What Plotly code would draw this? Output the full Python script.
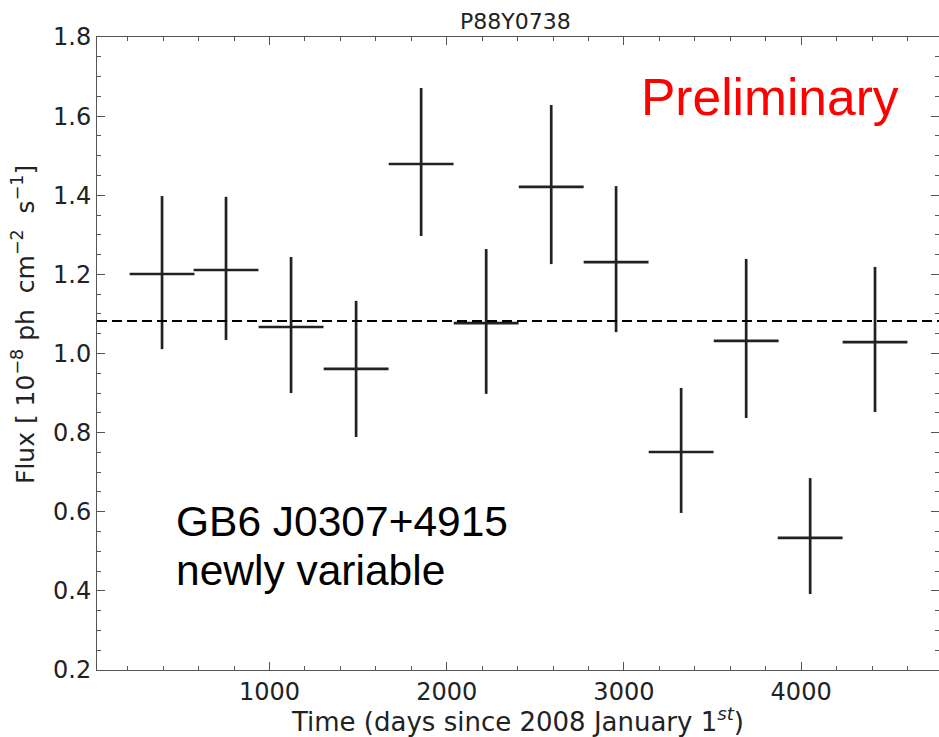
import plotly.graph_objects as go

# ---- data ----
time_days = [394, 755, 1122, 1489, 1856, 2223, 2590, 2956, 3323, 3690, 4051, 4417]
bin_half_width = [183] * 12
flux = [1.201, 1.211, 1.067, 0.961, 1.479, 1.077, 1.421, 1.231, 0.751, 1.032, 0.534, 1.029]
flux_hi = [1.398, 1.396, 1.244, 1.133, 1.671, 1.264, 1.628, 1.423, 0.913, 1.239, 0.685, 1.219]
flux_lo = [1.011, 1.034, 0.900, 0.789, 1.297, 0.898, 1.226, 1.054, 0.597, 0.837, 0.392, 0.852]
mean_flux = 1.082

x_ticks = [1000, 2000, 3000, 4000]
y_ticks = [0.2, 0.4, 0.6, 0.8, 1.0, 1.2, 1.4, 1.6, 1.8]

title_text = "P88Y0738"
x_title = "Time (days since 2008 January 1<sup><i>st</i></sup>)"
sp = "&nbsp;"
y_title = ("Flux" + sp + "[" + sp + "10<sup>\u22128</sup>" + sp + "ph" + sp + sp
           + "cm<sup>\u22122</sup>" + sp + sp + "s<sup>\u22121</sup>]")

err_plus = [h - f for h, f in zip(flux_hi, flux)]
err_minus = [f - l for f, l in zip(flux, flux_lo)]

fig = go.Figure()
fig.add_trace(go.Scatter(
    x=time_days, y=flux, mode="markers",
    marker=dict(size=1, color="#222222"),
    error_x=dict(type="data", array=bin_half_width, symmetric=True,
                 thickness=2.7, width=0, color="#222222"),
    error_y=dict(type="data", array=err_plus, arrayminus=err_minus,
                 symmetric=False, thickness=2.7, width=0, color="#222222"),
    showlegend=False, hoverinfo="skip",
))

fig.add_hline(y=mean_flux, line=dict(color="black", width=2, dash="10px,5px"))

axis_common = dict(
    showgrid=False, zeroline=False, showline=True, linecolor="#555555",
    linewidth=1, mirror="allticks", ticks="inside", ticklen=8, tickwidth=1,
    tickcolor="#555555", tickfont=dict(family="DejaVu Sans", size=24, color="#222222"),
)

fig.update_xaxes(
    range=[27, 4778], tickvals=x_ticks, ticktext=[str(v) for v in x_ticks],
    minor=dict(dtick=200, ticklen=4, tickwidth=1, tickcolor="#555555", ticks="inside"),
    title=dict(text=x_title, font=dict(family="DejaVu Sans", size=26, color="#222222"),
               standoff=2),
    **axis_common,
)
fig.update_yaxes(
    range=[0.2, 1.8], tickvals=y_ticks, ticktext=[f"{v:.1f}" for v in y_ticks],
    minor=dict(dtick=0.05, ticklen=4, tickwidth=1, tickcolor="#555555", ticks="inside"),
    **axis_common,
)

# y-axis title placed as a rotated annotation to match the reference position
fig.add_annotation(text=y_title, xref="paper", yref="paper",
                   x=(23 - 97) / 842, y=(670 - 325) / 633, textangle=-90,
                   xanchor="center", yanchor="middle", showarrow=False,
                   font=dict(family="DejaVu Sans", size=25, color="#222222"))

fig.add_annotation(text=title_text, xref="paper", yref="paper", x=0.497, y=1.0,
                   xanchor="center", yanchor="bottom", yshift=1, showarrow=False,
                   font=dict(family="DejaVu Sans", size=22, color="#222222"))
fig.add_annotation(text="Preliminary", xref="paper", yref="paper",
                   x=(639 - 97) / 842, y=(670 - 97) / 633,
                   xanchor="left", yanchor="middle", showarrow=False,
                   font=dict(family="Liberation Sans", size=51.5, color="#ff0000"))
fig.add_annotation(text="GB6 J0307+4915", xref="paper", yref="paper",
                   x=(174 - 97) / 842, y=(670 - 521) / 633,
                   xanchor="left", yanchor="middle", showarrow=False,
                   font=dict(family="Liberation Sans", size=42.5, color="black"))
fig.add_annotation(text="newly variable", xref="paper", yref="paper",
                   x=(174 - 97) / 842, y=(670 - 570) / 633,
                   xanchor="left", yanchor="middle", showarrow=False,
                   font=dict(family="Liberation Sans", size=42.5, color="black"))

fig.update_layout(
    width=939, height=737,
    margin=dict(l=97, r=0, t=37, b=67, autoexpand=False),
    paper_bgcolor="white", plot_bgcolor="white",
)

fig.write_html("out.html", config={"displayModeBar": False},
               post_script="document.body.style.margin='0px';document.body.style.overflow='hidden';")
